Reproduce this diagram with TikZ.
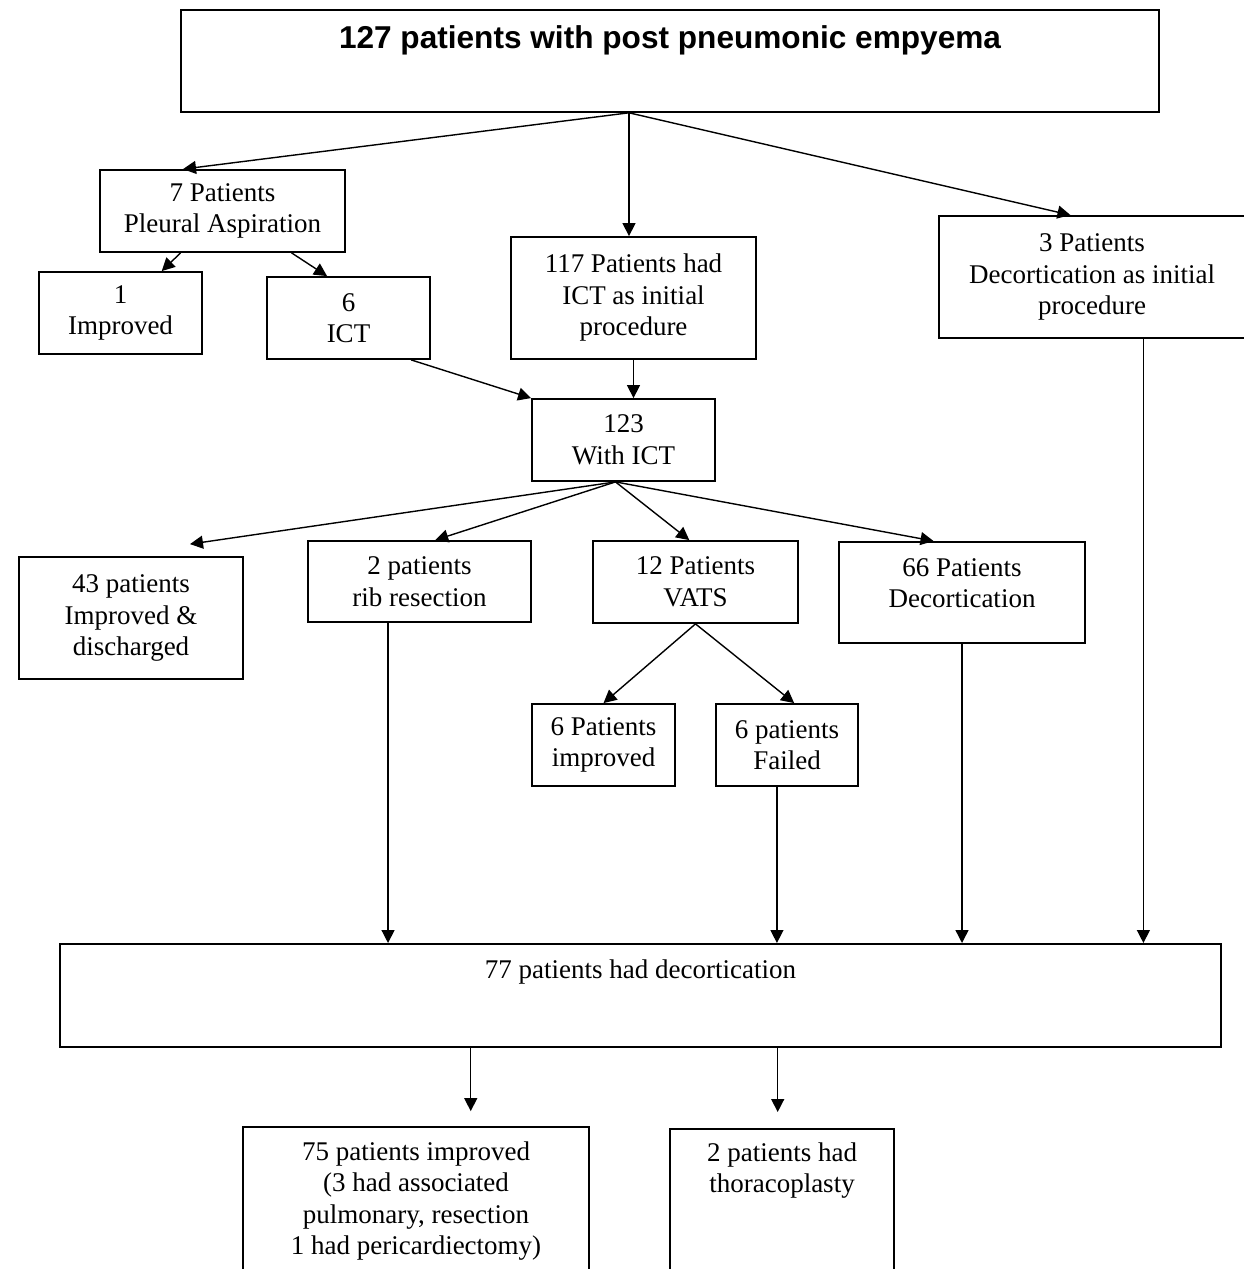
\documentclass[tikz,border=0pt]{standalone}
\usepackage{fontspec}
\setmainfont{Liberation Serif}
\newfontfamily\titlefont{Liberation Sans}
\usepackage{tikz}
\usetikzlibrary{arrows.meta,positioning,calc}
\tikzset{
  box/.style={draw=black, line width=0.9pt, inner sep=2pt, align=center,
    font=\fontsize{13.5}{15.75}\selectfont},
  hbox/.style={box, font=\titlefont\bfseries\fontsize{15.8}{18}\selectfont},
  flow/.style={-{Triangle[length=6.5pt,width=6.5pt]}, line width=0.7pt}
}
\begin{document}
\begin{tikzpicture}[x=0.5pt, y=-0.5pt]
  \useasboundingbox (0,0) rectangle (1243,1269);
  \node[hbox, anchor=north, inner sep=0pt, minimum width=489pt, text height=19.5pt, text depth=31.5pt] (title) at (670,9)
    {127 patients with post pneumonic empyema};

  \node[box, minimum width=122.5pt, minimum height=41pt] (asp) at (222.5,211) {7 Patients\\Pleural Aspiration};
  \node[box, minimum width=81.5pt, minimum height=41pt] (impr1) at (120.5,313) {1\\Improved};
  \node[box, minimum width=81.5pt, minimum height=41pt] (ict6) at (348.5,318) {6\\ICT};
  \node[box, minimum width=122.5pt, minimum height=61pt] (ict117) at (633.5,298) {117 Patients had\\ICT as initial\\procedure};
  \node[box, minimum width=153pt, minimum height=61pt] (dec3) at (1092,277) {3 Patients\\Decortication as initial\\procedure};
  \node[box, minimum width=91.5pt, minimum height=41pt] (ict123) at (623.5,440) {123\\With ICT};

  \node[box, minimum width=112pt, minimum height=61pt] (dis43) at (131,618) {43 patients\\Improved \&\\discharged};
  \node[box, minimum width=111.5pt, minimum height=40.5pt] (rib2) at (419.5,581.5) {2 patients\\rib resection};
  \node[box, minimum width=102.5pt, minimum height=41pt] (vats12) at (695.5,582) {12 Patients\\VATS};
  \node[box, anchor=north, inner sep=0pt, minimum width=123pt, text height=33pt, text depth=17.5pt] (dec66) at (962,541)
    {66 Patients\\Decortication};
  \node[box, minimum width=71.5pt, minimum height=41pt] (vimp6) at (603.5,745) {6 Patients\\improved};
  \node[box, minimum width=71pt, minimum height=41pt] (vfail6) at (787,745) {6 patients\\Failed};

  \node[box, anchor=north, inner sep=0pt, minimum width=580.5pt, text height=17.5pt, text depth=34pt] (dec77) at (640.5,943)
    {77 patients had decortication};
  \node[box, minimum width=173pt, minimum height=74pt] (imp75) at (416,1201)
    {75 patients improved\\(3 had associated\\pulmonary, resection\\1 had pericardiectomy)};
  \node[box, anchor=north, inner sep=0pt, minimum width=112pt, text height=32pt, text depth=49pt] (thor2) at (782,1128)
    {2 patients had\\thoracoplasty};

  \coordinate (fork1) at ($(title.south)+(-41,0)$);
  \draw[flow] (fork1) -- ($(asp.north west)!.34!(asp.north east)$);
  \draw[flow] (fork1) -- (fork1 |- ict117.north);
  \draw[flow] (fork1) -- ($(dec3.north west)!.43!(dec3.north east)$);

  \draw[flow] ($(asp.south west)!.33!(asp.south east)$) -- ($(impr1.north west)!.75!(impr1.north east)$);
  \draw[flow] ($(asp.south west)!.78!(asp.south east)$) -- ($(ict6.north west)!.37!(ict6.north east)$);
  \draw[flow] ($(ict6.south west)!.88!(ict6.south east)$) -- (ict123.north west);
  \draw[flow] (ict117.south) -- (ict117.south |- ict123.north);

  \coordinate (fork2) at ($(ict123.south)+(-8,0)$);
  \coordinate (end43) at ($(dis43.north)+(59,-12)$);
  \draw[flow] (fork2) -- (end43);
  \draw[flow] (fork2) -- ($(rib2.north west)!.57!(rib2.north east)$);
  \draw[flow] (fork2) -- ($(vats12.north west)!.47!(vats12.north east)$);
  \draw[flow] (fork2) -- ($(dec66.north west)!.385!(dec66.north east)$);

  \draw[flow] (vats12.south) -- (vimp6.north);
  \draw[flow] (vats12.south) -- ($(vfail6.north west)!.55!(vfail6.north east)$);

  \coordinate (ribout) at ($(rib2.south west)!.36!(rib2.south east)$);
  \coordinate (failout) at ($(vfail6.south west)!.43!(vfail6.south east)$);
  \coordinate (dec3out) at ($(dec3.south west)!.667!(dec3.south east)$);
  \foreach \c in {ribout,failout,dec66.south,dec3out}
    \draw[flow] (\c) -- (\c |- dec77.north);

  \coordinate (out75) at ($(dec77.south west)!.354!(dec77.south east)$);
  \coordinate (out2) at ($(dec77.south west)!.618!(dec77.south east)$);
  \coordinate (end75) at ($(imp75.north -| out75)+(0,-15)$);
  \coordinate (end2) at ($(thor2.north -| out2)+(0,-16)$);
  \draw[flow] (out75) -- (end75);
  \draw[flow] (out2) -- (end2);
\end{tikzpicture}
\end{document}
